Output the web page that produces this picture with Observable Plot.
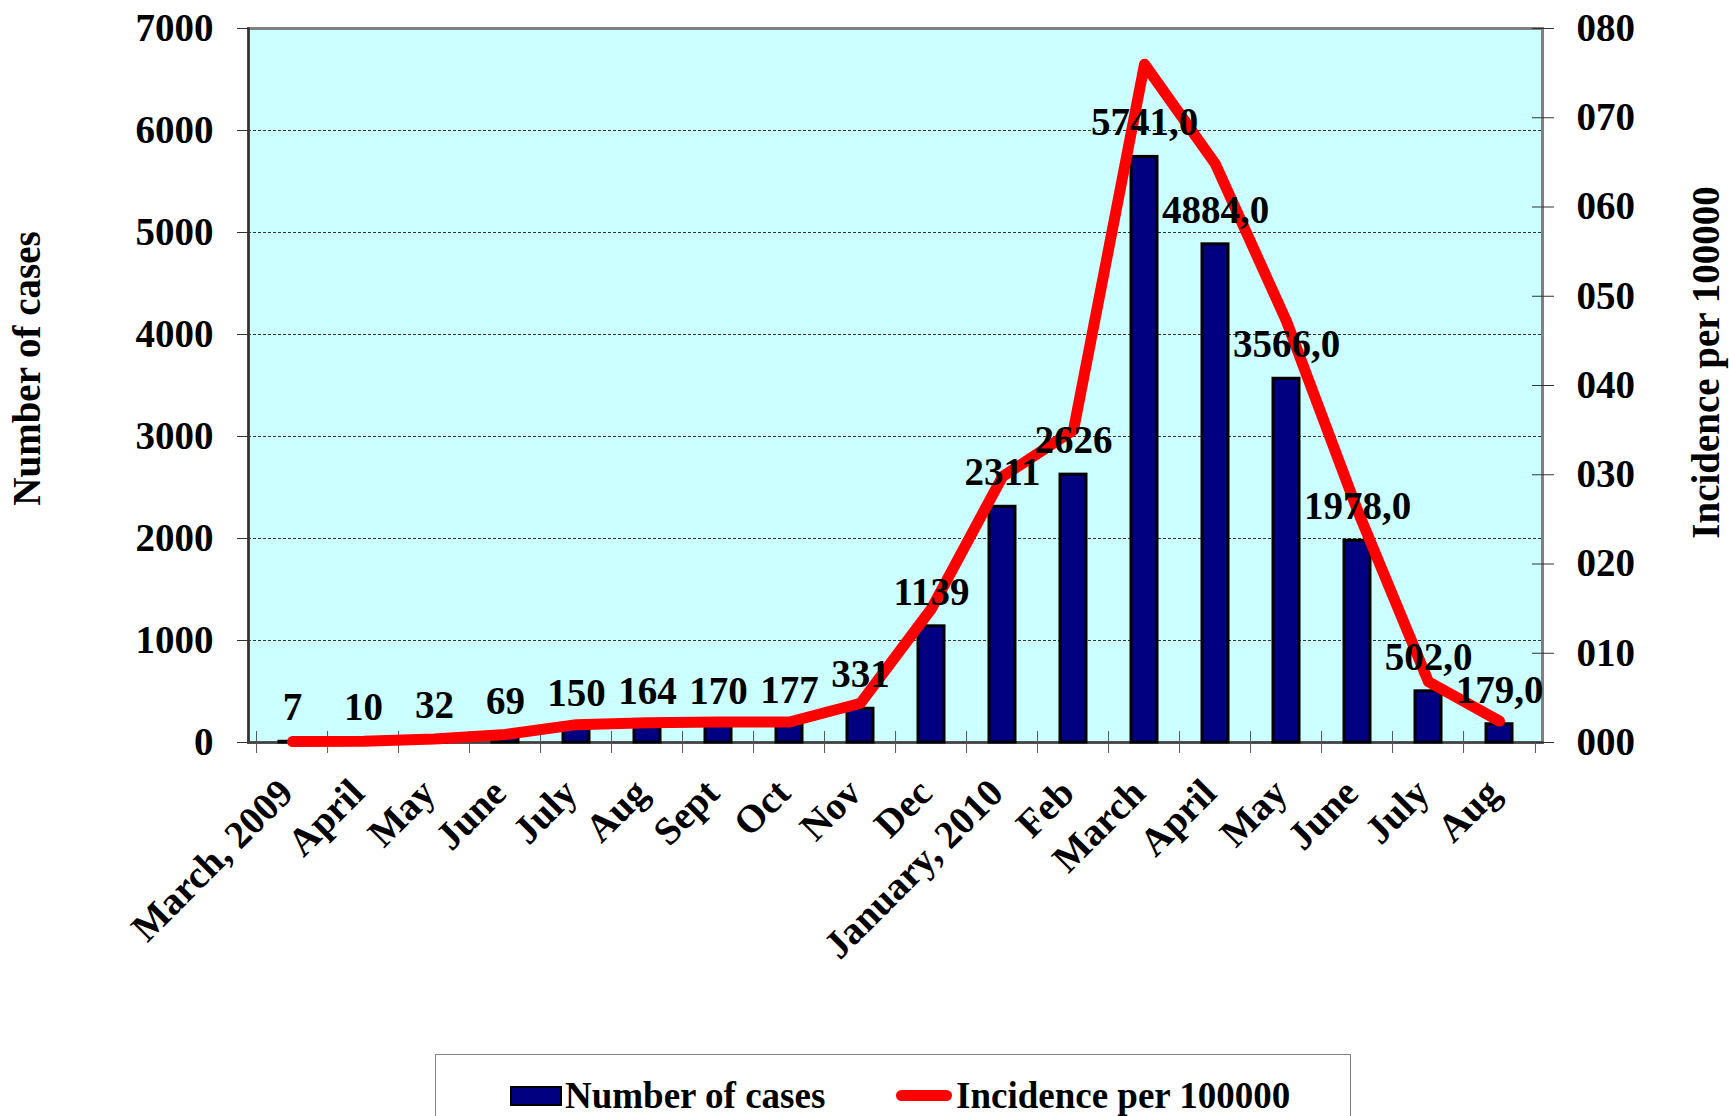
<!DOCTYPE html>
<html>
<head>
<meta charset="utf-8">
<script src="https://cdn.jsdelivr.net/npm/d3@7"></script>
<script src="https://cdn.jsdelivr.net/npm/@observablehq/plot@0.6"></script>
<style>
  html, body { margin: 0; padding: 0; background: #fff; overflow: hidden; }
  #chart { position: relative; width: 1729px; height: 1116px; font-family: "Liberation Serif", "Times New Roman", serif; }
  #chart svg { display: block; }
  .legend { position: absolute; left: 435px; top: 1054px; width: 916px; height: 120px;
            border: 1.5px solid #808080; box-sizing: border-box; background: #fff; }
  .legend .item { position: absolute; top: 22px; display: flex; align-items: center;
                  font-weight: bold; font-size: 37px; line-height: 1; color: #000; white-space: nowrap; }
  .swatch-bar { width: 48px; height: 16px; background: #000080; border: 2.5px solid #000; margin-right: 3px; }
  .swatch-line { width: 56px; height: 11px; background: #ff0000; border-radius: 5.5px; margin-right: 4px; }
</style>
</head>
<body>
<div id="chart"></div>
<script>
// Monthly pandemic influenza cases, March 2009 – August 2010
const months = ["March, 2009", "April", "May", "June", "July", "Aug", "Sept", "Oct", "Nov", "Dec",
                "January, 2010", "Feb", "March", "April", "May", "June", "July", "Aug"];
const cases = [7, 10, 32, 69, 150, 164, 170, 177, 331, 1139, 2311, 2626, 5741, 4884, 3566, 1978, 502, 179];
const incidence = [0.1, 0.15, 0.4, 0.9, 2.0, 2.2, 2.3, 2.3, 4.4, 15.0, 29.8, 35.0, 76.0, 64.8, 47.2, 26.0, 6.8, 2.4];
// labels from March 2010 onwards carry one decimal
const withDecimal = [false, false, false, false, false, false, false, false, false, false, false, false,
                     true, true, true, true, true, true];
const caseTicks = [0, 1000, 2000, 3000, 4000, 5000, 6000, 7000];
const incidenceTicks = [0, 10, 20, 30, 40, 50, 60, 70, 80];

const casesMax = 7000, incidenceMax = 80;
const k = casesMax / incidenceMax; // right axis maps onto the left scale

const rows = months.map((m, i) => ({
  i, month: m, cases: cases[i], inc: incidence[i],
  label: withDecimal[i] ? cases[i].toFixed(1).replace(".", ",") : String(cases[i])
}));

const W = 1729, H = 1054;
const mL = 248, mR = 187, mT = 28, mB = 312;
const step = (W - mL - mR) / months.length;
const font = '"Liberation Serif", "Times New Roman", serif';

const chart = Plot.plot({
  width: W, height: H,
  marginTop: mT, marginRight: mR, marginBottom: mB, marginLeft: mL,
  style: { fontFamily: font, fontSize: "39px", fontWeight: "bold", color: "#000", background: "transparent", overflow: "visible" },
  x: { type: "band", domain: d3.range(months.length), paddingInner: 0.64, paddingOuter: 0.32, label: null },
  y: { domain: [0, casesMax], label: null },
  marks: [
    Plot.frame({ fill: "#ccffff" }),
    Plot.gridY(caseTicks.slice(1, -1), { stroke: "#333", strokeOpacity: 1, strokeWidth: 1, strokeDasharray: "3,2" }),
    Plot.frame({ stroke: "#808080", strokeWidth: 3 }),
    Plot.frame({ anchor: "left", stroke: "#333", strokeWidth: 2.5 }),
    Plot.frame({ anchor: "bottom", stroke: "#444", strokeWidth: 2.5 }),
    // left axis: number of cases
    Plot.axisY(caseTicks, { anchor: "left", label: null, tickSize: 11, tickPadding: 24, stroke: "#333", tickFormat: d3.format("d") }),
    // right axis: incidence per 100000
    Plot.axisY(incidenceTicks.map(v => v * k), {
      anchor: "right", label: null, tickSize: 22, dx: -11, tickPadding: 23, stroke: "#333",
      tickFormat: d => d3.format("03d")(Math.round(d / k))
    }),
    // tick marks on the category boundaries
    Plot.axisX(d3.range(months.length), { anchor: "bottom", label: null, tickSize: 22, dy: -11, dx: -step / 2, tickFormat: () => "", stroke: "#555" }),
    Plot.axisX([months.length - 1], { anchor: "bottom", label: null, tickSize: 11, dx: step / 2, tickFormat: () => "", stroke: "#555" }),
    Plot.barY(rows, { x: "i", y: "cases", fill: "#000080", stroke: "#000", strokeWidth: 3 }),
    Plot.line(rows, { x: "i", y: d => d.inc * k, stroke: "#ff0000", strokeWidth: 11, strokeLinejoin: "round", strokeLinecap: "round" }),
    Plot.text(rows, { x: "i", y: "cases", text: "label", dy: -34, lineAnchor: "middle", fill: "#000" }),
    // rotated month labels
    Plot.text(rows, { x: "i", frameAnchor: "bottom", text: "month", rotate: -45, textAnchor: "end", lineAnchor: "middle", dx: -6, dy: 44, fill: "#000" }),
    // axis titles
    Plot.text(["Number of cases"], { frameAnchor: "left", textAnchor: "middle", rotate: -90, dx: 27 - mL, dy: -17, fill: "#000" }),
    Plot.text(["Incidence per 100000"], { frameAnchor: "right", textAnchor: "middle", rotate: -90, dx: 164, dy: -23, fill: "#000" })
  ]
});

const root = document.getElementById("chart");
root.appendChild(chart);

const legend = document.createElement("div");
legend.className = "legend";
legend.innerHTML =
  '<div class="item" style="left:74px"><span class="swatch-bar"></span><span>Number of cases</span></div>' +
  '<div class="item" style="left:460px"><span class="swatch-line"></span><span>Incidence per 100000</span></div>';
root.appendChild(legend);
</script>
</body>
</html>
